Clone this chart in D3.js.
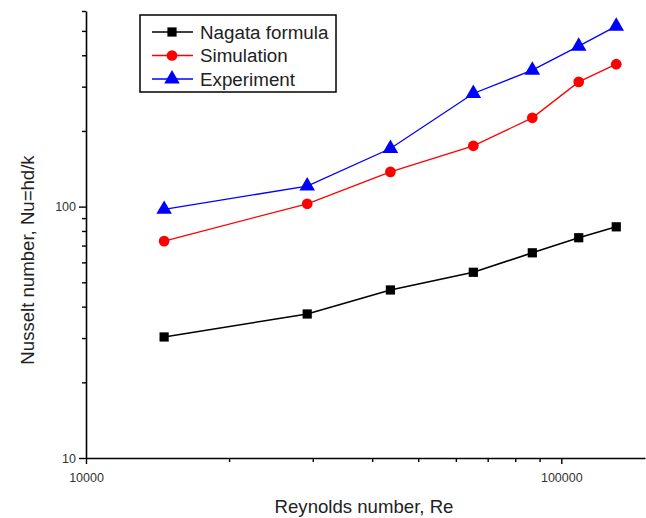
<!DOCTYPE html>
<html>
<head>
<meta charset="utf-8">
<script src="https://cdn.jsdelivr.net/npm/d3@7"></script>
<style>
  html, body { margin: 0; padding: 0; background: #fff; }
  svg { display: block; font-family: "Liberation Sans", Arial, sans-serif; }
</style>
</head>
<body>
<svg id="chart" width="646" height="518"></svg>
<script>
// ---- data ----
const reynolds = [14600, 29200, 43700, 65300, 86900, 108800, 130500];
const nagata = [30.3, 37.4, 46.6, 54.8, 65.5, 75.2, 83.1];
const simulation = [72.9, 102.6, 137.5, 174.5, 225.5, 313.5, 368.7];
const experiment = [97.5, 120.7, 170.3, 281.9, 348.9, 434.7, 522.2];
const seriesNames = ["Nagata formula", "Simulation", "Experiment"];
const seriesColors = ["#000000", "#ff0000", "#0000ff"];
const seriesSymbols = ["square", "circle", "triangle"];
const xMajorTicks = [10000, 100000];
const xMinorTicks = [20000, 30000, 40000, 50000, 60000, 70000, 80000, 90000];
const yMajorTicks = [10, 100];
const yMinorTicks = [20, 30, 40, 50, 60, 70, 80, 90, 200, 300, 400, 500, 600];
const xTitle = "Reynolds number, Re";
const yTitle = "Nusselt number, Nu=hd/k";

const svg = d3.select("#chart");
const L = 86, R = 645, T = 11, B = 458;
const x = d3.scaleLog().domain([10000, 150000]).range([L, R]);
const y = d3.scaleLog().domain([10, 600]).range([B, T]);

const axisColor = "#000";
const labelColor = "#333";

// Y axis
const gy = svg.append("g").attr("transform", `translate(${L},0)`);
gy.call(d3.axisLeft(y).tickValues(yMinorTicks).tickSize(4).tickSizeOuter(0).tickFormat(""));
gy.call(g => g.select(".domain").remove());
const gy2 = svg.append("g").attr("transform", `translate(${L},0)`);
gy2.call(d3.axisLeft(y).tickValues(yMajorTicks).tickSize(7).tickSizeOuter(0).tickPadding(3).tickFormat(d3.format("d")));

// X axis
const gx = svg.append("g").attr("transform", `translate(0,${B})`);
gx.call(d3.axisBottom(x).tickValues(xMinorTicks).tickSize(4).tickSizeOuter(0).tickFormat(""));
gx.call(g => g.select(".domain").remove());
const gx2 = svg.append("g").attr("transform", `translate(0,${B})`);
gx2.call(d3.axisBottom(x).tickValues(xMajorTicks).tickSize(6).tickSizeOuter(0).tickPadding(9).tickFormat(d3.format("d")));

svg.selectAll(".domain").attr("stroke", axisColor).attr("stroke-width", 1.6);
svg.selectAll(".tick line").attr("stroke", axisColor).attr("stroke-width", 1.4);
svg.selectAll(".tick text").attr("fill", labelColor).attr("font-size", 12.5).attr("font-family", "Liberation Sans, Arial, sans-serif");

// Titles
svg.append("text").attr("x", 364).attr("y", 513).attr("text-anchor", "middle")
  .attr("font-size", 18.6).attr("fill", "#222").text(xTitle);
svg.append("text").attr("transform", "translate(34,260) rotate(-90)").attr("text-anchor", "middle")
  .attr("font-size", 18.6).attr("fill", "#222").text(yTitle);

// symbols
const symMap = { square: d3.symbolSquare, circle: d3.symbolCircle, triangle: d3.symbolTriangle };
const symSize = { square: 85, circle: 90, triangle: 105 };
const allSeries = [nagata, simulation, experiment];
const line = d3.line().x((d, i) => x(reynolds[i])).y(d => y(d));

allSeries.forEach((vals, k) => {
  const g = svg.append("g");
  g.append("path").attr("d", line(vals)).attr("fill", "none")
    .attr("stroke", seriesColors[k]).attr("stroke-width", k === 0 ? 1.6 : 1.3);
  g.selectAll("path.m").data(vals).enter().append("path").attr("class", "m")
    .attr("transform", (d, i) => `translate(${x(reynolds[i])},${y(d)})`)
    .attr("d", d3.symbol().type(symMap[seriesSymbols[k]]).size(symSize[seriesSymbols[k]]))
    .attr("fill", seriesColors[k]);
});

// Legend
const lg = svg.append("g");
lg.append("rect").attr("x", 140).attr("y", 15).attr("width", 196).attr("height", 77)
  .attr("fill", "#fff").attr("stroke", "#000").attr("stroke-width", 1.5);
seriesNames.forEach((name, k) => {
  const yy = 32 + k * 23.5;
  lg.append("line").attr("x1", 152).attr("x2", 193).attr("y1", yy).attr("y2", yy)
    .attr("stroke", seriesColors[k]).attr("stroke-width", k === 0 ? 1.6 : 1.3);
  lg.append("path").attr("transform", `translate(172,${yy})`)
    .attr("d", d3.symbol().type(symMap[seriesSymbols[k]]).size(symSize[seriesSymbols[k]]))
    .attr("fill", seriesColors[k]);
  lg.append("text").attr("x", 200).attr("y", yy + 6.5).attr("font-size", 18.8).attr("fill", "#222").text(name);
});
</script>
</body>
</html>
